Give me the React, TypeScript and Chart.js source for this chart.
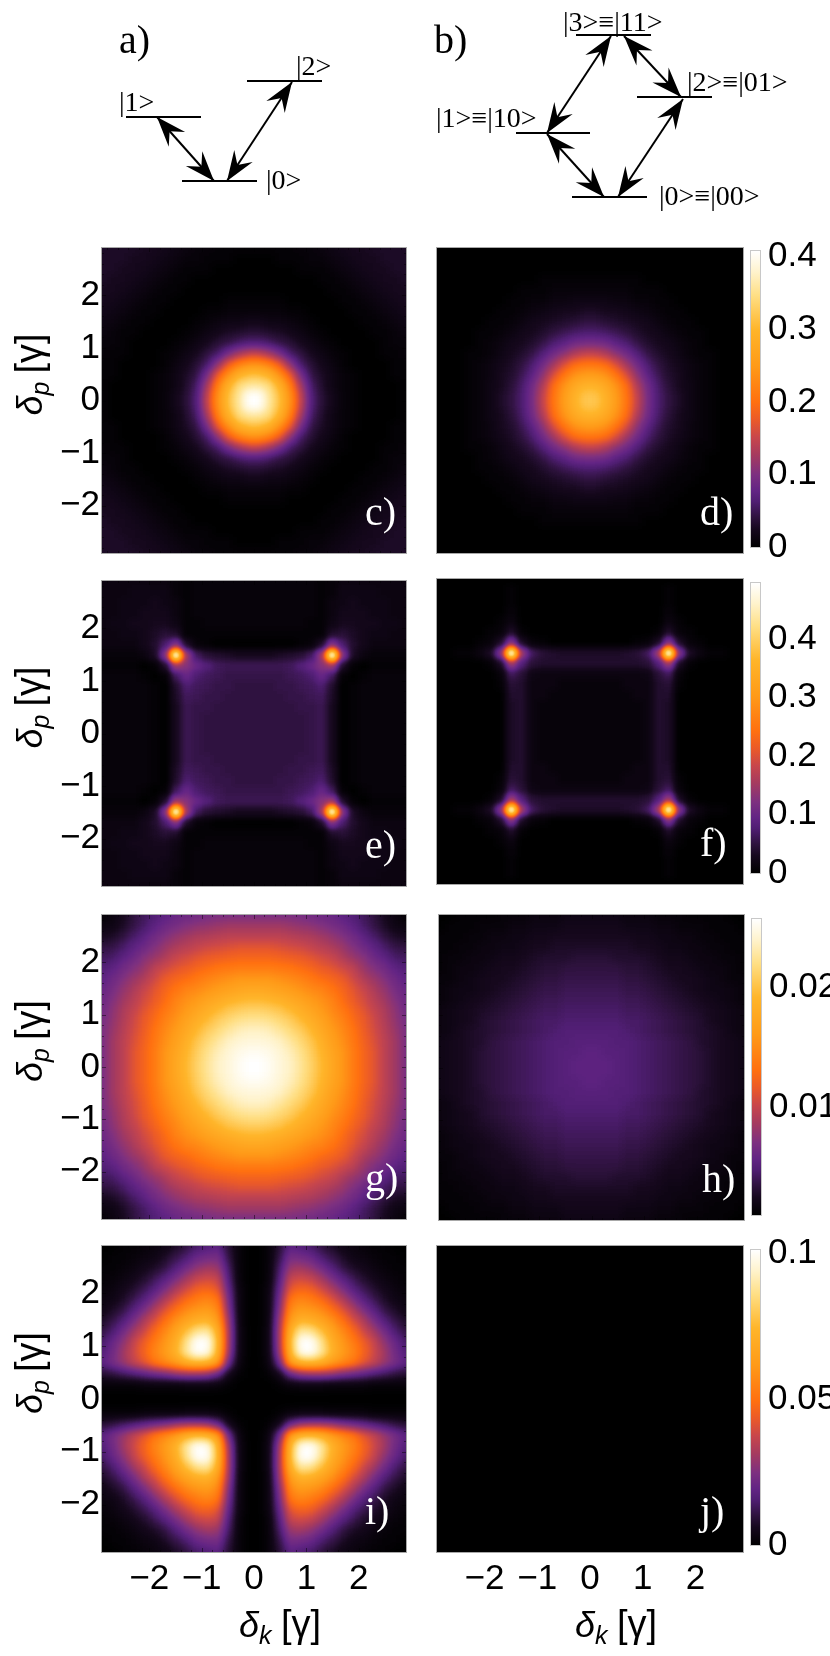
import React, { useEffect, useRef } from "react";
import { Chart, registerables } from "chart.js";

Chart.register(...registerables);

// ---------- data ----------
const gridCentres = [0.1, 0.3, 0.5, 0.7, 0.9, 1.1, 1.3, 1.5, 1.7, 1.9, 2.1, 2.3, 2.5, 2.7, 2.9];
const cellStep = 0.2;
const axisTicks = [-2, -1, 0, 1, 2];
const frameTicks = [-2.8,-2.6,-2.4,-2.2,-2,-1.8,-1.6,-1.4,-1.2,-1,-0.8,-0.6,-0.4,-0.2,0,0.2,0.4,0.6,0.8,1,1.2,1.4,1.6,1.8,2,2.2,2.4,2.6,2.8];

// Each panel: one quadrant, rows = delta_p, cols = delta_k, in percent of its colour bar.
const panelC = [
  [100,88,76,58,36,16,9,5,2,1,0,0,0,0,1],
  [88,84,71,53,31,14,8,4,2,1,0,0,0,0,1],
  [76,71,58,43,23,11,7,4,2,1,0,0,0,1,1],
  [58,53,43,27,14,9,5,3,1,0,0,0,0,1,1],
  [36,31,23,14,10,6,4,2,1,0,0,0,1,1,2],
  [16,14,11,9,6,4,2,1,0,0,0,0,1,2,2],
  [9,8,7,5,4,2,1,0,0,0,0,1,1,2,3],
  [5,4,4,3,2,1,0,0,0,0,1,1,2,3,4],
  [2,2,2,1,1,0,0,0,0,1,1,2,3,4,5],
  [1,1,1,0,0,0,0,0,1,1,2,3,4,5,6],
  [0,0,0,0,0,0,0,1,1,2,3,4,5,6,6],
  [0,0,0,0,0,0,1,1,2,3,4,5,6,6,7],
  [0,0,0,0,1,1,1,2,3,4,5,6,6,7,7],
  [0,0,1,1,1,2,2,3,4,5,6,6,7,7,7],
  [1,1,1,1,2,2,3,4,5,6,6,7,7,7,7],
];
const panelD = [
  [78,72,62,50,36,23,15,10,7,4,2,1,0,0,0],
  [72,68,59,48,33,22,14,9,6,4,2,1,0,0,0],
  [62,59,50,40,27,18,12,8,6,3,2,1,0,0,0],
  [50,48,40,30,22,15,10,7,5,3,2,1,0,0,0],
  [36,33,27,22,16,11,8,6,4,2,1,1,0,0,0],
  [23,22,18,15,11,8,6,5,3,2,1,0,0,0,0],
  [15,14,12,10,8,6,5,3,2,1,1,0,0,0,0],
  [10,9,8,7,6,5,3,2,1,1,0,0,0,0,0],
  [7,6,6,5,4,3,2,1,1,0,0,0,0,0,0],
  [4,4,3,3,2,2,1,1,0,0,0,0,0,0,0],
  [2,2,2,2,1,1,1,0,0,0,0,0,0,0,0],
  [1,1,1,1,1,0,0,0,0,0,0,0,0,0,0],
  [0,0,0,0,0,0,0,0,0,0,0,0,0,0,0],
  [0,0,0,0,0,0,0,0,0,0,0,0,0,0,0],
  [0,0,0,0,0,0,0,0,0,0,0,0,0,0,0],
];
const panelE = [
  [10,10,10,10,10,11,12,6,0,1,2,2,2,2,2],
  [10,10,10,10,10,11,12,6,0,1,2,2,2,2,2],
  [10,10,10,10,11,11,12,6,0,1,2,2,2,2,2],
  [10,10,10,11,11,12,13,7,0,1,2,2,2,2,2],
  [10,10,11,11,12,13,15,8,0,1,2,2,2,2,2],
  [11,11,11,12,13,15,20,13,1,0,1,2,2,2,2],
  [12,12,12,13,16,20,26,30,8,1,0,1,1,1,1],
  [6,6,7,8,9,13,30,100,26,7,3,2,2,2,2],
  [0,0,0,0,1,2,8,26,15,8,5,3,3,3,3],
  [1,1,1,1,1,1,1,8,9,7,5,4,4,3,3],
  [2,2,2,2,2,1,1,4,6,6,5,5,4,4,3],
  [2,2,2,2,2,2,1,3,5,5,5,4,4,3,3],
  [2,2,2,2,2,2,1,3,4,5,4,4,4,3,3],
  [2,2,2,2,2,2,1,2,4,4,4,4,3,3,3],
  [2,2,2,2,2,2,1,2,3,3,3,3,3,3,3],
];
const panelF = [
  [2,2,2,2,2,3,8,7,0,0,0,0,0,0,0],
  [2,2,2,2,2,3,8,7,0,0,0,0,0,0,0],
  [2,2,2,2,2,3,8,7,0,0,0,0,0,0,0],
  [2,2,2,2,3,3,8,8,0,0,0,0,0,0,0],
  [2,2,2,3,3,3,8,9,1,0,0,0,0,0,0],
  [3,3,3,3,3,4,9,13,2,0,0,0,0,0,0],
  [8,8,8,8,8,9,16,30,7,1,0,0,0,0,0],
  [7,7,7,8,9,13,30,100,26,7,3,1,1,0,0],
  [0,0,0,0,1,2,7,26,8,2,1,0,0,0,0],
  [0,0,0,0,0,0,1,8,2,1,0,0,0,0,0],
  [0,0,0,0,0,0,0,3,1,0,0,0,0,0,0],
  [0,0,0,0,0,0,0,2,0,0,0,0,0,0,0],
  [0,0,0,0,0,0,0,1,0,0,0,0,0,0,0],
  [0,0,0,0,0,0,0,1,0,0,0,0,0,0,0],
  [0,0,0,0,0,0,0,0,0,0,0,0,0,0,0],
];
const panelG = [
  [100,98,95,92,87,81,74,67,60,52,46,41,35,30,24],
  [98,97,94,91,86,80,73,66,60,52,46,41,35,30,24],
  [95,94,92,88,83,78,71,64,58,51,45,40,35,30,24],
  [92,91,88,84,80,74,68,62,56,50,44,39,34,29,24],
  [87,86,83,80,75,70,65,59,54,48,43,38,33,28,23],
  [81,80,78,74,70,66,61,56,51,46,41,36,32,27,22],
  [74,73,71,68,65,61,58,54,48,43,39,34,30,25,21],
  [67,66,64,62,59,56,54,50,46,41,37,32,28,23,20],
  [60,60,58,56,54,51,48,46,43,38,33,29,25,21,18],
  [52,52,51,50,48,46,43,41,38,35,29,25,22,18,16],
  [46,46,45,44,43,41,39,37,33,29,26,21,18,14,13],
  [41,41,40,39,38,36,34,32,29,25,21,18,14,11,10],
  [35,35,35,34,33,32,30,28,25,22,18,14,10,7,6],
  [30,30,30,29,28,27,25,23,21,18,14,11,7,4,3],
  [24,24,24,24,23,22,21,20,18,16,13,10,6,3,1],
];
const panelH = [
  [18,18,17,16,15,14,13,12,11,10,9,7,6,5,4],
  [18,17,17,16,15,14,13,12,11,10,9,7,6,5,4],
  [17,17,16,16,15,14,13,12,11,10,8,7,6,5,4],
  [16,16,16,15,14,13,12,11,10,9,8,7,6,4,3],
  [15,15,15,14,14,13,12,11,10,9,8,6,5,4,3],
  [14,14,14,13,13,12,11,10,9,8,7,6,5,4,3],
  [13,13,13,12,12,11,10,9,8,7,6,5,4,3,2],
  [12,12,12,11,11,10,9,8,7,6,5,4,4,3,2],
  [11,11,11,10,10,9,8,7,6,6,5,4,3,2,2],
  [10,10,10,9,9,8,7,6,6,5,4,3,3,2,1],
  [9,9,8,8,8,7,6,5,5,4,3,3,2,2,1],
  [7,7,7,7,6,6,5,4,4,3,3,2,2,1,1],
  [6,6,6,6,5,5,4,4,3,3,2,2,1,1,1],
  [5,5,5,4,4,4,3,3,2,2,2,1,1,1,0],
  [4,4,4,3,3,3,2,2,2,1,1,1,1,0,0],
];
const panelI = [
  [0,0,0,0,0,0,0,0,0,0,0,0,0,0,0],
  [0,0,1,3,4,4,4,3,3,3,3,2,2,2,2],
  [0,1,6,22,30,32,32,30,26,23,20,17,14,11,9],
  [0,3,22,62,72,74,70,62,56,50,42,36,29,23,18],
  [0,4,30,72,98,100,88,72,62,55,46,38,30,22,16],
  [0,4,32,74,100,100,86,70,60,52,44,36,27,20,14],
  [0,4,32,70,88,86,76,65,56,47,38,30,22,15,10],
  [0,3,30,62,72,70,65,58,49,40,32,23,16,11,7],
  [0,3,26,56,62,60,56,49,41,33,24,17,11,7,4],
  [0,3,23,50,55,52,47,40,33,24,17,12,7,4,3],
  [0,3,20,42,46,44,38,32,24,17,12,8,5,3,2],
  [0,2,17,36,38,36,30,23,17,12,8,5,3,2,1],
  [0,2,14,29,30,27,22,16,11,7,5,3,2,1,1],
  [0,2,11,23,22,20,15,11,7,4,3,2,1,1,0],
  [0,2,9,18,16,14,10,7,4,3,2,1,1,0,0],
];
const panelJ = [
  [0,0,0,0,0,0,0,0,0,0,0,0,0,0,0],
  [0,0,0,0,0,0,0,0,0,0,0,0,0,0,0],
  [0,0,0,0,0,0,0,0,0,0,0,0,0,0,0],
  [0,0,0,0,0,0,0,0,0,0,0,0,0,0,0],
  [0,0,0,0,0,0,0,0,0,0,0,0,0,0,0],
  [0,0,0,0,0,0,0,0,0,0,0,0,0,0,0],
  [0,0,0,0,0,0,0,0,0,0,0,0,0,0,0],
  [0,0,0,0,0,0,0,0,0,0,0,0,0,0,0],
  [0,0,0,0,0,0,0,0,0,0,0,0,0,0,0],
  [0,0,0,0,0,0,0,0,0,0,0,0,0,0,0],
  [0,0,0,0,0,0,0,0,0,0,0,0,0,0,0],
  [0,0,0,0,0,0,0,0,0,0,0,0,0,0,0],
  [0,0,0,0,0,0,0,0,0,0,0,0,0,0,0],
  [0,0,0,0,0,0,0,0,0,0,0,0,0,0,0],
  [0,0,0,0,0,0,0,0,0,0,0,0,0,0,0],
];

// Colour bars: range and labelled ticks.
const barCD = { min: 0, max: 0.408, ticks: [0, 0.1, 0.2, 0.3, 0.4] };
const barEF = { min: 0, max: 0.496, ticks: [0, 0.1, 0.2, 0.3, 0.4] };
const barGH = { min: 0.001, max: 0.0257, ticks: [0.01, 0.02] };
const barIJ = { min: 0, max: 0.1013, ticks: [0, 0.05, 0.1] };

// Energy-level diagrams, in page units.
const levels = [
  [[126, 117], [201, 117]],
  [[247, 81], [322, 81]],
  [[182, 181], [257, 181]],
  [[576, 35], [651, 35]],
  [[637, 97], [712, 97]],
  [[516, 133], [590, 133]],
  [[572, 197], [647, 197]],
];
const transitions = [
  [[157, 117], [214, 181]],
  [[227, 181], [292, 82]],
  [[611, 36], [547, 133]],
  [[624, 36], [681, 97]],
  [[683, 99], [618, 197]],
  [[547, 134], [604, 197]],
];
const diagramTexts = [
  { text: "a)", x: 119, y: 53, size: 40 },
  { text: "b)", x: 434, y: 53, size: 40 },
  { text: "|1>", x: 119, y: 111, size: 28 },
  { text: "|2>", x: 296, y: 75, size: 28 },
  { text: "|0>", x: 266, y: 189, size: 28 },
  { text: "|3>≡|11>", x: 563, y: 31, size: 28 },
  { text: "|1>≡|10>", x: 436, y: 127, size: 28 },
  { text: "|2>≡|01>", x: 687, y: 91, size: 28 },
  { text: "|0>≡|00>", x: 659, y: 205, size: 28 },
];

// ---------- styling ----------
const colourStops = [
  [0, 0, 0, 0], [0.06, 22, 8, 30], [0.1, 46, 18, 62], [0.154, 80, 30, 115], [0.19, 98, 36, 132], [0.245, 125, 48, 128],
  [0.31, 165, 58, 95], [0.37, 200, 70, 75], [0.43, 235, 90, 40], [0.49, 255, 112, 16],
  [0.61, 255, 154, 24], [0.735, 255, 181, 42], [0.85, 255, 223, 133], [0.93, 255, 243, 205],
  [1, 255, 255, 255],
];
function rgbAt(t: number) {
  for (let i = 1; i < colourStops.length; i++) {
    const a = colourStops[i - 1];
    const b = colourStops[i];
    if (t <= b[0]) {
      const f = (t - a[0]) / (b[0] - a[0]);
      return [a[1] + (b[1] - a[1]) * f, a[2] + (b[2] - a[2]) * f, a[3] + (b[3] - a[3]) * f];
    }
  }
  return [255, 255, 255];
}
// The colour scale, one entry per grey level of the value layer.
const lookup: number[][] = [];
for (let g = 0; g < 256; g++) lookup.push(rgbAt(g / 255));

function greyOf(level: number) {
  const g = Math.round((Math.min(100, Math.max(0, level)) / 100) * 255);
  return `rgb(${g},${g},${g})`;
}
const SANS = '"Liberation Sans", Arial, sans-serif';
const SERIF = '"Liberation Serif", "Times New Roman", serif';
const TICK_SIZE = 35;
const BAR_TICK_SIZE = 35;
const FRAME = "#a8a8a8";
const RANGE = 2.9;

function toCells(rows: number[][]) {
  const cells: { x: number; y: number; v: number }[] = [];
  rows.forEach((row, i) =>
    row.forEach((v, j) => {
      for (const sx of [-1, 1]) for (const sy of [-1, 1]) cells.push({ x: sx * gridCentres[j], y: sy * gridCentres[i], v });
    })
  );
  return cells;
}

// ---------- plugins ----------
// Cells are drawn as a grey value layer; it is softened, then mapped through the colour scale.
const smoothPlugin = {
  id: "smooth",
  afterDatasetsDraw(chart: any, _a: any, opts: any) {
    const { ctx, chartArea: a, canvas } = chart;
    const s = opts.sigma;
    const m = Math.ceil(s * 3);
    const x0 = Math.round(a.left), y0 = Math.round(a.top);
    const w = Math.round(a.right - a.left), h = Math.round(a.bottom - a.top);
    const off = document.createElement("canvas");
    off.width = w + 2 * m;
    off.height = h + 2 * m;
    const o = off.getContext("2d")!;
    o.drawImage(canvas, x0, y0, w, h, m, m, w, h);
    o.drawImage(canvas, x0, y0, 1, h, 0, m, m, h);
    o.drawImage(canvas, x0 + w - 1, y0, 1, h, w + m, m, m, h);
    o.drawImage(canvas, x0, y0, w, 1, m, 0, w, m);
    o.drawImage(canvas, x0, y0 + h - 1, w, 1, m, h + m, w, m);
    o.drawImage(canvas, x0, y0, 1, 1, 0, 0, m, m);
    o.drawImage(canvas, x0 + w - 1, y0, 1, 1, w + m, 0, m, m);
    o.drawImage(canvas, x0, y0 + h - 1, 1, 1, 0, h + m, m, m);
    o.drawImage(canvas, x0 + w - 1, y0 + h - 1, 1, 1, w + m, h + m, m, m);
    ctx.save();
    ctx.beginPath();
    ctx.rect(x0, y0, w, h);
    ctx.clip();
    ctx.filter = `blur(${s}px)`;
    ctx.drawImage(off, x0 - m, y0 - m);
    ctx.restore();
    const img = ctx.getImageData(x0, y0, w, h);
    const d = img.data;
    for (let i = 0; i < d.length; i += 4) {
      const c = lookup[d[i]];
      d[i] = c[0];
      d[i + 1] = c[1];
      d[i + 2] = c[2];
      d[i + 3] = 255;
    }
    ctx.putImageData(img, x0, y0);
  },
};

const framePlugin = {
  id: "frame",
  afterDraw(chart: any, _a: any, opts: any) {
    const { ctx, chartArea: a, scales } = chart;
    ctx.save();
    if (opts.marks) {
      ctx.strokeStyle = "rgba(0,0,0,0.45)";
      ctx.lineWidth = 1;
      ctx.beginPath();
      frameTicks.forEach((v) => {
        const len = Number.isInteger(v) ? 4 : 2;
        const px = Math.round(scales.x.getPixelForValue(v)) + 0.5;
        const py = Math.round(scales.y.getPixelForValue(v)) + 0.5;
        ctx.moveTo(px, a.top);
        ctx.lineTo(px, a.top + len);
        ctx.moveTo(px, a.bottom);
        ctx.lineTo(px, a.bottom - len);
        ctx.moveTo(a.left, py);
        ctx.lineTo(a.left + len, py);
        ctx.moveTo(a.right, py);
        ctx.lineTo(a.right - len, py);
      });
      ctx.stroke();
    }
    ctx.strokeStyle = opts.color || FRAME;
    ctx.lineWidth = 1;
    ctx.strokeRect(a.left - 0.5, a.top - 0.5, a.right - a.left + 1, a.bottom - a.top + 1);
    ctx.restore();
  },
};

function drawMathLabel(ctx: any, sub: string) {
  ctx.textBaseline = "alphabetic";
  ctx.textAlign = "left";
  ctx.fillStyle = "#000";
  ctx.font = `italic 36px ${SANS}`;
  ctx.fillText("δ", 0, 0);
  ctx.font = `italic 25px ${SANS}`;
  ctx.fillText(sub, 20, 7);
  ctx.font = `38px ${SANS}`;
  ctx.fillText("[γ]", 42, 0);
}

const labelPlugin = {
  id: "panelText",
  afterDraw(chart: any, _a: any, opts: any) {
    const { ctx, chartArea: a } = chart;
    ctx.save();
    ctx.fillStyle = "#fff";
    ctx.textAlign = "left";
    ctx.textBaseline = "alphabetic";
    ctx.font = `40px ${SERIF}`;
    ctx.fillText(opts.tag, a.left + 263, a.bottom - 28);
    ctx.restore();
    const cx = (a.left + a.right) / 2;
    const cy = (a.top + a.bottom) / 2;
    if (opts.yLabel) {
      ctx.save();
      ctx.translate(a.left - 60, cy + 15);
      ctx.rotate(-Math.PI / 2);
      drawMathLabel(ctx, "p");
      ctx.restore();
    }
    if (opts.xLabel) {
      ctx.save();
      ctx.translate(cx - 15, a.bottom + 85);
      drawMathLabel(ctx, "k");
      ctx.restore();
    }
  },
};

const arrowPlugin = {
  id: "arrowHeads",
  afterDatasetsDraw(chart: any) {
    const { ctx } = chart;
    const L = 30, W = 11, N = 19;
    chart.data.datasets.forEach((ds: any, idx: number) => {
      if (!ds.arrow) return;
      const pts = chart.getDatasetMeta(idx).data;
      [[pts[0], pts[1]], [pts[1], pts[0]]].forEach(([tip, tail]: any) => {
        const dx = tail.x - tip.x, dy = tail.y - tip.y;
        const d = Math.hypot(dx, dy);
        const ux = dx / d, uy = dy / d;
        ctx.save();
        ctx.fillStyle = "#000";
        ctx.beginPath();
        ctx.moveTo(tip.x, tip.y);
        ctx.lineTo(tip.x + ux * L - uy * W, tip.y + uy * L + ux * W);
        ctx.lineTo(tip.x + ux * N, tip.y + uy * N);
        ctx.lineTo(tip.x + ux * L + uy * W, tip.y + uy * L - ux * W);
        ctx.closePath();
        ctx.fill();
        ctx.restore();
      });
    });
  },
};

const diagramTextPlugin = {
  id: "diagramText",
  afterDraw(chart: any) {
    const { ctx, scales } = chart;
    ctx.save();
    ctx.fillStyle = "#000";
    ctx.textAlign = "left";
    ctx.textBaseline = "alphabetic";
    diagramTexts.forEach((t) => {
      ctx.font = `${t.size}px ${SERIF}`;
      ctx.fillText(t.text, scales.x.getPixelForValue(t.x), scales.y.getPixelForValue(t.y));
    });
    ctx.restore();
  },
};

// ---------- chart builders ----------
function formatTick(v: number) {
  return v < 0 ? `\u2212${-v}` : `${v}`;
}
function noPadding(s: any) {
  s.paddingTop = 0;
  s.paddingBottom = 0;
  s.paddingLeft = 0;
  s.paddingRight = 0;
}

function heatConfig(p: any) {
  const pad = p.showY ? 0 : 5;
  return {
    type: "scatter",
    data: {
      datasets: [
        {
          data: toCells(p.rows),
          showLine: false,
          pointStyle: "rect",
          pointBorderWidth: 0,
          pointRadius: (c: any) => {
            const sc = c.chart.scales.x;
            if (!sc) return 5;
            return (Math.abs(sc.getPixelForValue(cellStep) - sc.getPixelForValue(0)) + 1) / Math.SQRT2;
          },
          pointBackgroundColor: (c: any) => (c.raw ? greyOf(c.raw.v) : "#000"),
        },
      ],
    },
    options: {
      animation: false,
      responsive: false,
      devicePixelRatio: 1,
      events: [],
      layout: { padding: { left: pad, right: 5, top: 5, bottom: p.showX ? 0 : 5 } },
      plugins: {
        legend: { display: false },
        tooltip: { enabled: false },
        smooth: { sigma: p.sigma },
        frame: { marks: true },
        panelText: { tag: p.tag, xLabel: p.showX, yLabel: p.showY },
      },
      scales: {
        x: {
          type: "linear",
          min: -RANGE,
          max: RANGE,
          display: !!p.showX,
          grid: { display: false, drawTicks: false },
          border: { display: false },
          afterBuildTicks: (s: any) => { s.ticks = axisTicks.map((value) => ({ value })); },
          afterFit: (s: any) => { s.height = p.showX ? 100 : 0; noPadding(s); },
          ticks: { z: 1, padding: 6, maxRotation: 0, autoSkip: false, color: "#000", font: { family: SANS, size: TICK_SIZE }, callback: formatTick },
        },
        y: {
          type: "linear",
          min: -RANGE,
          max: RANGE,
          display: !!p.showY,
          grid: { display: false, drawTicks: false },
          border: { display: false },
          afterBuildTicks: (s: any) => { s.ticks = axisTicks.map((value) => ({ value })); },
          afterFit: (s: any) => { s.width = p.showY ? p.left : 0; noPadding(s); },
          ticks: { z: 1, padding: 2, autoSkip: false, color: "#000", font: { family: SANS, size: TICK_SIZE }, callback: formatTick },
        },
      },
    },
    plugins: [smoothPlugin, framePlugin, labelPlugin],
  };
}

function barConfig(b: any) {
  return {
    type: "bar",
    data: {
      labels: ["level"],
      datasets: [
        {
          data: [[b.min, b.max]],
          barPercentage: 1,
          categoryPercentage: 1,
          borderWidth: 0,
          backgroundColor: (c: any) => {
            const a = c.chart.chartArea;
            if (!a) return "#000";
            const g = c.chart.ctx.createLinearGradient(0, a.bottom, 0, a.top);
            colourStops.forEach((s) => g.addColorStop(s[0], `rgb(${s[1]},${s[2]},${s[3]})`));
            return g;
          },
        },
      ],
    },
    options: {
      animation: false,
      responsive: false,
      devicePixelRatio: 1,
      events: [],
      layout: { padding: { left: 5, right: 0, top: 25, bottom: 25 } },
      plugins: { legend: { display: false }, tooltip: { enabled: false }, frame: { color: "#c8c8c8" } },
      scales: {
        x: { display: false, grid: { display: false } },
        y: {
          position: "right",
          min: b.min,
          max: b.max,
          grid: { display: false, drawTicks: false },
          border: { display: false },
          afterBuildTicks: (s: any) => { s.ticks = b.ticks.map((value: number) => ({ value })); },
          afterFit: (s: any) => { s.width = 80; },
          ticks: { padding: 8, autoSkip: false, color: "#000", font: { family: SANS, size: BAR_TICK_SIZE }, callback: (v: number) => `${v}` },
        },
      },
    },
    plugins: [framePlugin],
  };
}

function diagramConfig() {
  const toPts = (seg: number[][]) => seg.map(([x, y]) => ({ x, y }));
  return {
    type: "scatter",
    data: {
      datasets: [
        ...levels.map((seg) => ({ data: toPts(seg), showLine: true, pointRadius: 0, borderColor: "#000", borderWidth: 2.2 })),
        ...transitions.map((seg) => ({ data: toPts(seg), showLine: true, pointRadius: 0, borderColor: "#000", borderWidth: 2, arrow: true })),
      ],
    },
    options: {
      animation: false,
      responsive: false,
      devicePixelRatio: 1,
      events: [],
      plugins: { legend: { display: false }, tooltip: { enabled: false } },
      scales: {
        x: { type: "linear", min: 0, max: 830, display: false },
        y: { type: "linear", min: 0, max: 230, reverse: true, display: false },
      },
    },
    plugins: [arrowPlugin, diagramTextPlugin],
  };
}

// ---------- components ----------
function Canvas({ left, top, width, height, config }: any) {
  const ref = useRef<HTMLCanvasElement>(null);
  useEffect(() => {
    const chart = new Chart(ref.current!, config());
    return () => chart.destroy();
  }, []);
  return <canvas ref={ref} width={width} height={height} style={{ position: "absolute", left, top, width, height }} />;
}

function Heat({ tag, rows, x0, x1, y0, y1, showX, showY, sigma }: any) {
  const left = showY ? 0 : x0 - 5;
  const top = y0 - 5;
  const width = x1 + 5 - left;
  const height = y1 - y0 + 5 + (showX ? 100 : 5);
  return (
    <Canvas
      left={left}
      top={top}
      width={width}
      height={height}
      config={() => heatConfig({ tag, rows, showX, showY, sigma, left: x0 })}
    />
  );
}

function Bar({ bar, x0, y0, y1 }: any) {
  const left = x0 - 5;
  const top = y0 - 25;
  const width = 9 + 5 + 80;
  const height = y1 - y0 + 50;
  return <Canvas left={left} top={top} width={width} height={height} config={() => barConfig(bar)} />;
}

export default function App() {
  return (
    <div style={{ position: "absolute", left: 0, top: 0, width: 830, height: 1656, overflow: "hidden", background: "#fff" }}>
      <Canvas left={0} top={0} width={830} height={230} config={diagramConfig} />
      <Heat tag="c)" rows={panelC} x0={102} x1={406} y0={248} y1={553} showY sigma={4} />
      <Heat tag="d)" rows={panelD} x0={437} x1={743} y0={248} y1={553} sigma={4} />
      <Bar bar={barCD} x0={751} y0={247} y1={551} />
      <Heat tag="e)" rows={panelE} x0={102} x1={406} y0={581} y1={886} showY sigma={3} />
      <Heat tag="f)" rows={panelF} x0={437} x1={743} y0={579} y1={884} sigma={3} />
      <Bar bar={barEF} x0={751} y0={579} y1={877} />
      <Heat tag="g)" rows={panelG} x0={102} x1={406} y0={915} y1={1219} showY sigma={4} />
      <Heat tag="h)" rows={panelH} x0={439} x1={744} y0={915} y1={1220} sigma={4} />
      <Bar bar={barGH} x0={752} y0={915} y1={1219} />
      <Heat tag="i)" rows={panelI} x0={102} x1={406} y0={1246} y1={1552} showX showY sigma={4} />
      <Heat tag="j)" rows={panelJ} x0={437} x1={743} y0={1246} y1={1552} showX sigma={4} />
      <Bar bar={barIJ} x0={751} y0={1246} y1={1549} />
    </div>
  );
}
